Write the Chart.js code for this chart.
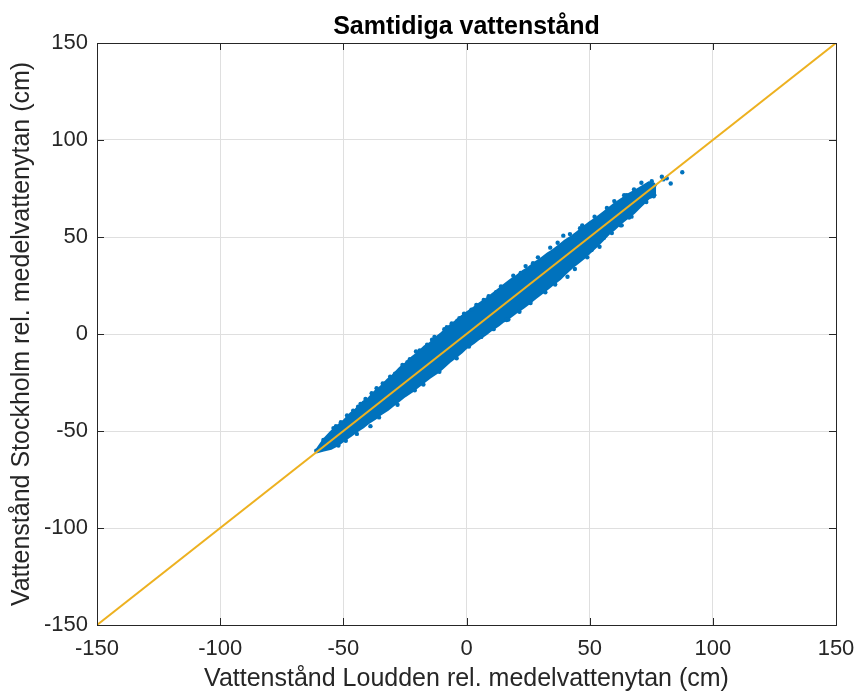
<!DOCTYPE html>
<html>
<head>
<meta charset="utf-8">
<script src="https://cdn.jsdelivr.net/npm/chart.js@4.4.0/dist/chart.umd.min.js"></script>
<style>
html,body{margin:0;padding:0;background:#fff;}
#wrap{width:858px;height:693px;}
</style>
</head>
<body>
<div id="wrap"><canvas id="c" width="858" height="693"></canvas></div>
<script>
// ---- Data (cm) ----
const titleText = 'Samtidiga vattenstånd';
const xTitle = 'Vattenstånd Loudden rel. medelvattenytan (cm)';
const yTitle = 'Vattenstånd Stockholm rel. medelvattenytan (cm)';
const xTicks = [-150, -100, -50, 0, 50, 100, 150];
const yTicks = [-150, -100, -50, 0, 50, 100, 150];

// dense cloud of observations: upper and lower envelope of the point cloud
const cloudX =      [-61, -58, -55, -52, -50, -47, -45, -42, -40, -37, -35, -32, -30, -27, -25, -22, -20, -17, -15, -12, -10, -7, -5, -2, 0, 3, 5, 8, 10, 13, 15, 18, 20, 23, 25, 28, 30, 33, 35, 38, 40, 43, 45, 48, 50, 53, 55, 58, 60, 63, 65, 68, 70, 72, 74, 76, 77];
const cloudUpper =  [-60, -54.5, -50.5, -47, -45, -41, -39, -35, -33.5, -29.5, -27.5, -23.5, -21.5, -17.5, -15.5, -12, -10, -6.5, -5, -1.5, 0.5, 4, 6, 9, 11, 13.5, 15.5, 18, 20, 23, 25, 28, 29.5, 32.5, 34, 37, 38.5, 41.5, 43, 46, 48, 50.5, 52.5, 55.5, 57.5, 60, 62, 65, 67, 69.5, 71.5, 73.5, 75, 76.5, 78, 77.5, 76];
const cloudLower =  [-61, -60, -59, -57, -55, -52.5, -50.5, -48, -46, -43.5, -41.5, -39, -37, -34, -32, -29.5, -27.5, -24.5, -22.5, -20, -18, -14.5, -12.5, -9.5, -7, -4.5, -2.5, 0, 2, 4.5, 6.5, 9, 11, 13.5, 15.5, 18.5, 20.5, 23.5, 25.5, 28.5, 31, 34.5, 36.5, 39.5, 42, 45.5, 48, 52, 54, 57.5, 59.5, 62.5, 65, 67.5, 70, 71, 72];

// individual observations at the edges of / outside the dense cloud
const obsX = [-61, -59.5, -58.1, -57, -53, -48.5, -44, -41, -36.5, -33, -29, -24, -18.2, -10.8, -20.5, -14, -8, -3.7, -2.9, 2, 7, 16.3, 12, 22, 27, 31, 39.3, 46.1, 50.8, 55.8, 61, 65, 69.1, 75.2, 79.9, 82.9, 87.6, 81.3, 79.3, 72, 71, 66, 62.5,
              -54, -51, -46, -43, -38.5, -34, -31, -26, -23, -19, -16, -13, -9, -6, -1, 4, 9, 14, 19, 24, 29, 34, 37, 42, 47, 52, 57, 60, 64, 68,
              -52, -49, -44.5, -39, -35.5, -28, -21, -17.5, -11, -4, 1, 6, 11, 17, 21.5, 26, 32, 36, 41, 44, 49, 54, 59, 63, 67, 73, 76];
const obsY = [-60.2, -58.8, -54.6, -55.5, -47.5, -42, -37.5, -33.5, -28, -25.5, -20.5, -14.5, -25.4, -16, -9, -3, 3.5, 6.9, 8.1, 12.5, 17.5, 7.2, 21.5, 31.5, 36.5, 22, 50.7, 54.5, 43.3, 49.6, 65.6, 71.6, 71.1, 78.8, 79.7, 77.6, 83.4, 80.3, 81.1, 69, 78, 60, 56,
              -48.5, -45.5, -39.5, -36, -30.5, -25.5, -22, -16, -13, -8.5, -5.5, -1.5, 2.5, 5.5, 10.5, 15, 19.5, 24.5, 30, 35, 39.5, 44.5, 47, 51.5, 56, 60.5, 65, 68.5, 71.5, 74.5,
              -57.5, -55, -51.5, -47.5, -43, -36.5, -29, -26, -19.5, -12.5, -6.5, -1.5, 2.5, 7.5, 11.5, 16, 21.5, 25.5, 29.5, 33.5, 39.5, 45, 52, 56, 60.5, 68, 71];

// reference line y = x
const refX = [-150, 150];
const refY = [-150, 150];

const blue = '#0072BD';
const gold = '#EDB120';
const axisCol = '#262626';
const gridCol = '#dfdfdf';

const toPts = (xs, ys) => xs.map((x, i) => ({x: x, y: ys[i]}));

const boxTicks = {
  id: 'boxTicks',
  afterDatasetsDraw(chart) {
    const {ctx, chartArea: a, scales} = chart;
    ctx.save();
    ctx.strokeStyle = axisCol;
    ctx.lineWidth = 1;
    const L = 7;
    ctx.beginPath();
    xTicks.forEach(v => {
      const px = Math.round(scales.x.getPixelForValue(v)) + 0.5;
      ctx.moveTo(px, a.bottom); ctx.lineTo(px, a.bottom - L);
      ctx.moveTo(px, a.top); ctx.lineTo(px, a.top + L);
    });
    yTicks.forEach(v => {
      const py = Math.round(scales.y.getPixelForValue(v)) + 0.5;
      ctx.moveTo(a.left, py); ctx.lineTo(a.left + L, py);
      ctx.moveTo(a.right, py); ctx.lineTo(a.right - L, py);
    });
    ctx.stroke();
    ctx.strokeRect(Math.round(a.left) + 0.5, Math.round(a.top) + 0.5,
                   Math.round(a.right - a.left), Math.round(a.bottom - a.top));
    ctx.restore();
  }
};

const fontFam = '"Liberation Sans", Arial, Helvetica, sans-serif';

new Chart(document.getElementById('c'), {
  type: 'scatter',
  data: {
    datasets: [
      {
        label: 'cloudUpper', data: toPts(cloudX, cloudUpper), showLine: true,
        borderColor: blue, borderWidth: 2.5, backgroundColor: blue,
        pointRadius: 0, fill: '+1', order: 3
      },
      {
        label: 'cloudLower', data: toPts(cloudX, cloudLower), showLine: true,
        borderColor: blue, borderWidth: 2.5, backgroundColor: blue,
        pointRadius: 0, fill: false, order: 3
      },
      {
        label: 'obs', data: toPts(obsX, obsY), showLine: false,
        pointRadius: 2.2, pointBackgroundColor: blue, pointBorderWidth: 0,
        order: 2
      },
      {
        label: 'ref', data: toPts(refX, refY), showLine: true,
        borderColor: gold, borderWidth: 2, pointRadius: 0, fill: false,
        order: 1
      }
    ]
  },
  options: {
    responsive: false,
    animation: false,
    events: [],
    layout: {padding: {left: 0, right: 22, top: 0, bottom: 0}},
    plugins: {
      legend: {display: false},
      tooltip: {enabled: false},
      title: {display: false}
    },
    scales: {
      x: {
        type: 'linear', min: -150, max: 150, position: 'bottom',
        afterFit: s => { s.height = 68; s.paddingLeft = 0; s.paddingRight = 0; },
        afterBuildTicks: s => { s.ticks = xTicks.map(v => ({value: v})); },
        grid: {color: gridCol, lineWidth: 1, drawTicks: false},
        border: {display: false},
        ticks: {color: axisCol, padding: 11, maxRotation: 0,
                font: {family: fontFam, size: 22},
                callback: v => String(v)},
        title: {display: true, text: xTitle, color: axisCol,
                font: {family: fontFam, size: 25, lineHeight: 1.1},
                padding: {top: 0, bottom: 0}}
      },
      xTop: {
        type: 'linear', min: -150, max: 150, position: 'top',
        afterFit: s => { s.height = 43; s.paddingLeft = 0; s.paddingRight = 0; },
        grid: {display: false, drawTicks: false},
        border: {display: false},
        ticks: {display: false},
        title: {display: true, text: titleText, color: '#000',
                font: {family: fontFam, size: 25, weight: 'bold', lineHeight: 1.2},
                padding: {top: 12, bottom: 0}}
      },
      y: {
        type: 'linear', min: -150, max: 150,
        afterFit: s => { s.width = 97; s.paddingTop = 0; s.paddingBottom = 0; },
        afterBuildTicks: s => { s.ticks = yTicks.map(v => ({value: v})); },
        grid: {color: gridCol, lineWidth: 1, drawTicks: false},
        border: {display: false},
        ticks: {color: axisCol, padding: 9,
                font: {family: fontFam, size: 22},
                callback: v => String(v)},
        title: {display: true, text: yTitle, color: axisCol,
                font: {family: fontFam, size: 25, lineHeight: 1.2},
                padding: {top: 7, bottom: 0}}
      }
    }
  },
  plugins: [boxTicks]
});
</script>
</body>
</html>
